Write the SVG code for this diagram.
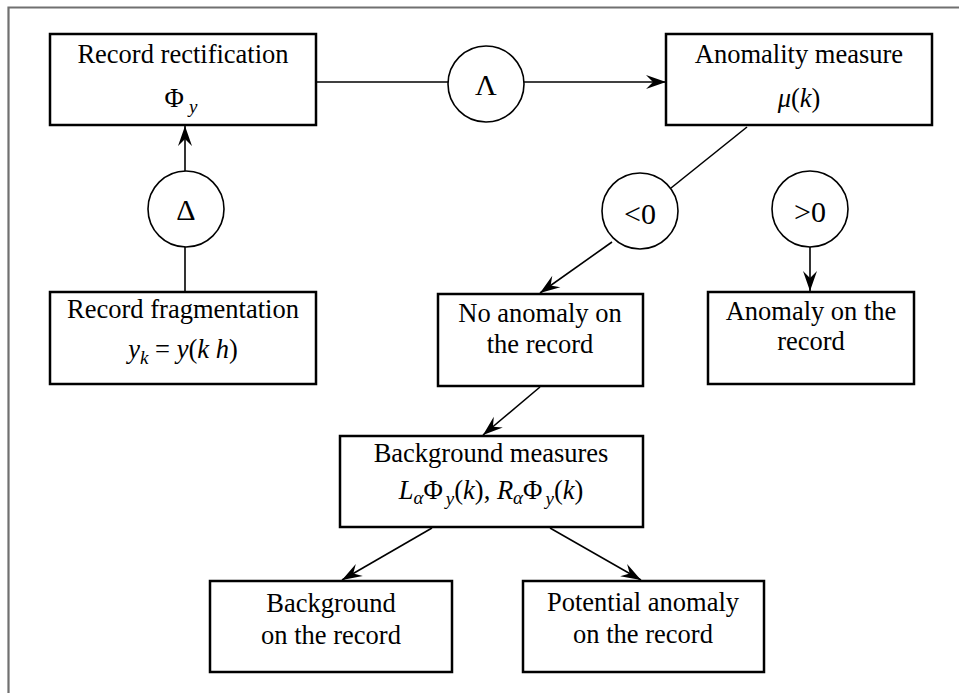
<svg xmlns="http://www.w3.org/2000/svg" width="959" height="693" viewBox="0 0 959 693">
<style>
text{font-family:"Liberation Serif","Times New Roman",serif;font-size:26.5px;fill:#000;text-anchor:middle}
.box{fill:#fff;stroke:#000;stroke-width:2.5}
.circ{fill:#fff;stroke:#000;stroke-width:1.6}
.c{font-size:30px}
.i{font-style:italic}
.s{font-size:19px;font-style:italic}
.conn line{stroke:#000;stroke-width:1.6}
.arr{marker-end:url(#ah)}
</style>
<defs>
<marker id="ah" viewBox="-21 -8 22 16" refX="0" refY="0" markerWidth="22" markerHeight="16" markerUnits="userSpaceOnUse" orient="auto">
<path d="M0,0 L-20,-7 L-13,0 L-20,7 Z" fill="#000"/>
</marker>
</defs>
<rect width="959" height="693" fill="#fff"/>
<path d="M8.5,693 V7.5 H959" fill="none" stroke="#707070" stroke-width="2.2"/>

<g class="conn">
<line x1="316" y1="82" x2="448" y2="82"/>
<line class="arr" x1="524" y1="82" x2="666" y2="82"/>
<line class="arr" x1="185" y1="171" x2="185" y2="126"/>
<line x1="185" y1="292" x2="185" y2="247"/>
<line x1="747" y1="127" x2="671" y2="188"/>
<line class="arr" x1="612" y1="242" x2="540" y2="293"/>
<line class="arr" x1="810" y1="247" x2="810" y2="291"/>
<line class="arr" x1="540" y1="387" x2="483" y2="435"/>
<line class="arr" x1="432" y1="528" x2="342" y2="580"/>
<line class="arr" x1="550" y1="528" x2="641" y2="580"/>
</g>

<g id="rectification">
<rect class="box" x="50" y="34" width="266" height="91"/>
<text x="183" y="63">Record rectification</text>
<text x="181" y="107">Φ<tspan class="s" dx="5" dy="6">y</tspan></text>
</g>

<g id="lambda">
<circle class="circ" cx="486" cy="84" r="38"/>
<text class="c" x="486" y="95">Λ</text>
</g>

<g id="anomality">
<rect class="box" x="666" y="34" width="266" height="91"/>
<text x="799" y="63">Anomality measure</text>
<text x="799" y="107"><tspan class="i">μ</tspan>(<tspan class="i">k</tspan>)</text>
</g>

<g id="delta">
<circle class="circ" cx="186" cy="209" r="38"/>
<text class="c" x="186" y="220">Δ</text>
</g>

<g id="fragmentation">
<rect class="box" x="50" y="292" width="266" height="92"/>
<text x="183" y="318">Record fragmentation</text>
<text x="183" y="358"><tspan class="i">y</tspan><tspan class="s" dy="6">k</tspan><tspan dy="-6"> = </tspan><tspan class="i">y</tspan>(<tspan class="i">k h</tspan>)</text>
</g>

<g id="lt0">
<circle class="circ" cx="640" cy="211" r="38"/>
<text class="c" x="640" y="224">&lt;0</text>
</g>

<g id="gt0">
<circle class="circ" cx="810" cy="209" r="38"/>
<text class="c" x="810" y="222">&gt;0</text>
</g>

<g id="noanomaly">
<rect class="box" x="438" y="294" width="205" height="92"/>
<text x="540" y="322">No anomaly on</text>
<text x="540" y="353">the record</text>
</g>

<g id="anomaly">
<rect class="box" x="708" y="292" width="206" height="92"/>
<text x="811" y="320">Anomaly on the</text>
<text x="811" y="350">record</text>
</g>

<g id="bgmeasures">
<rect class="box" x="340" y="436" width="303" height="91"/>
<text x="491" y="462">Background measures</text>
<text x="491" y="499"><tspan class="i">L</tspan><tspan class="s" dy="5">α</tspan><tspan dy="-5">Φ</tspan><tspan class="s" dx="3" dy="6">y</tspan><tspan dy="-6">(</tspan><tspan class="i">k</tspan>), <tspan class="i">R</tspan><tspan class="s" dy="5">α</tspan><tspan dy="-5">Φ</tspan><tspan class="s" dx="3" dy="6">y</tspan><tspan dy="-6">(</tspan><tspan class="i">k</tspan>)</text>
</g>

<g id="background">
<rect class="box" x="210" y="581" width="242" height="91"/>
<text x="331" y="612">Background</text>
<text x="331" y="644">on the record</text>
</g>

<g id="potential">
<rect class="box" x="523" y="581" width="241" height="91"/>
<text x="643" y="611">Potential anomaly</text>
<text x="643" y="643">on the record</text>
</g>
</svg>
